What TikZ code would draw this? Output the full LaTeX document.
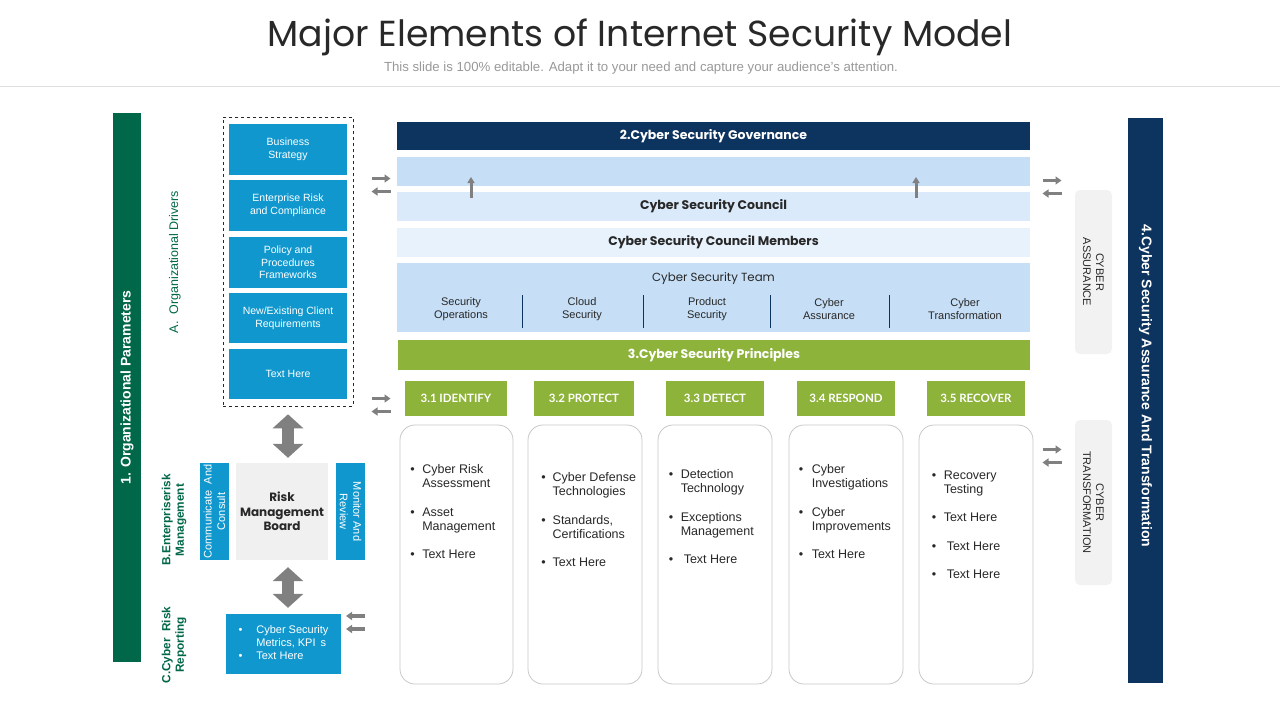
\documentclass[tikz,border=0pt]{standalone}
\usepackage{fontspec}
\setmainfont{Liberation Sans}
\newfontfamily\gothic{Poppins}
\newfontfamily\gill{Lato}
\usetikzlibrary{arrows.meta, positioning, calc}
\definecolor{secnavy}{RGB}{12,52,94}
\definecolor{secblue}{RGB}{16,152,206}
\definecolor{secgreen}{RGB}{141,179,59}
\definecolor{orggreen}{RGB}{0,104,72}
\definecolor{bandblue}{RGB}{198,223,246}
\definecolor{bandmid}{RGB}{219,234,250}
\definecolor{bandlight}{RGB}{232,242,252}
\definecolor{arrowgray}{RGB}{128,128,128}
\definecolor{cardline}{RGB}{200,200,200}
\definecolor{tagfill}{RGB}{242,242,242}
\definecolor{textgray}{RGB}{40,40,40}

\tikzset{
  drvbox/.style={fill=secblue, text=white, minimum width=118pt, inner sep=2pt, align=center, font=\fontsize{10.5}{12.7}\selectfont},
  band/.style={minimum width=633pt, inner sep=0pt, align=center},
  phase/.style={fill=secgreen, text=white, minimum height=35pt, inner sep=0pt, font=\gill\bfseries\fontsize{11.5}{13}\selectfont},
  card/.style={draw=cardline, fill=white, rounded corners=15pt, minimum width=114pt, minimum height=259pt, line width=0.8pt},
  cardlist/.style={anchor=north west, inner sep=0pt, text=textgray, font=\fontsize{12.5}{14}\selectfont},
  sidetag/.style={fill=tagfill, rounded corners=5pt, minimum width=164pt, minimum height=37pt, rotate=-90, align=center, text=textgray, font=\fontsize{11}{13}\selectfont},
  steplabel/.style={text=orggreen, align=center, rotate=90, inner sep=0pt},
  pairarrow/.style={draw=arrowgray, line width=3.5pt, -{Triangle[width=8pt,length=6pt]}},
  bigarrow/.style={draw=arrowgray, line width=12pt, {Triangle[width=30pt,length=14pt]}-{Triangle[width=30pt,length=14pt]}},
}

\begin{document}
\begin{tikzpicture}[x=1pt, y=-1pt]
  \useasboundingbox[fill=white] (0,0) rectangle (1280,720);

  % title
  \node[text=textgray] (title) at (640,37) {\gothic\fontsize{36.2}{40}\selectfont Major Elements of Internet Security Model};
  \node[text=black!40] (subtitle) at (641,68) {\fontsize{13.2}{15}\selectfont This slide is 100\% editable. Adapt it to your need and capture your audience's attention.};
  \draw[black!12, line width=1pt] (0,86) -- (1280,86);

  % left column
  \node[fill=orggreen, text=white, rotate=90, minimum width=549pt, minimum height=28pt, inner sep=0pt,
        font=\bfseries\fontsize{14}{16}\selectfont] (orgbar) at (127,387.5) {1. Organizational Parameters};
  \node[steplabel, font=\fontsize{12.5}{14}\selectfont] (labA) at (175,262) {A.\ \ Organizational Drivers};
  \node[steplabel, font=\bfseries\fontsize{11.8}{13.5}\selectfont] (labB) at (174,520) {B.Enterpriserisk\\Management};
  \node[steplabel, font=\bfseries\fontsize{11.8}{13.5}\selectfont] (labC) at (174,645) {C.Cyber\ \ Risk\\Reporting};

  \node[draw=textgray, dashed, line width=0.6pt, minimum width=130pt, minimum height=289pt] (drivers) at (288,261.5) {};
  \node[drvbox, minimum height=51pt] (drv1) at (288,149.5) {Business\\Strategy};
  \node[drvbox, minimum height=51pt] (drv2) at (288,205.5) {Enterprise Risk\\and Compliance};
  \node[drvbox, minimum height=51pt] (drv3) at (288,262.5) {Policy and\\Procedures\\Frameworks};
  \node[drvbox, minimum height=50pt] (drv4) at (288,318) {New/Existing Client\\Requirements};
  \node[drvbox, minimum height=50pt] (drv5) at (288,374) {Text Here};

  \node[fill=black!6, text=textgray, minimum width=92pt, minimum height=97pt, align=center,
        font=\gothic\bfseries\fontsize{12}{14.5}\selectfont] (board) at (282,511.5) {Risk\\Management\\Board};
  \node[fill=secblue, text=white, rotate=90, minimum width=97pt, minimum height=29pt, inner sep=0pt, align=center,
        font=\fontsize{11}{13.5}\selectfont] (consult) at (214.5,511.5) {Communicate\ \ And\\Consult};
  \node[fill=secblue, text=white, rotate=-90, minimum width=97pt, minimum height=29pt, inner sep=0pt, align=center,
        font=\fontsize{11}{13.5}\selectfont] (review) at (350.5,511.5) {Monitor And\\Review};
  \node[fill=secblue, text=white, minimum width=115pt, minimum height=60pt, inner sep=0pt,
        font=\fontsize{11}{13}\selectfont] (report) at (283.5,644)
        {\begin{tabular}{@{}l@{\hspace{14pt}}l@{}}\textbullet & Cyber Security\\ & Metrics, KPI\hspace{5pt}s\\ \textbullet & Text Here\end{tabular}};

  \draw[bigarrow] ([yshift=-8pt]drivers.south) -- ([yshift=5pt]drivers.south |- board.north);
  \draw[bigarrow] ([yshift=-7pt]drivers.south |- board.south) -- ([yshift=6pt]drivers.south |- report.north);

  % governance bands
  \node[band, fill=secnavy, text=white, minimum height=28pt, font=\gothic\bfseries\fontsize{12.5}{14}\selectfont] (gov) at (713.5,136) {2.Cyber Security Governance};
  \node[band, fill=bandblue, minimum height=29pt] (band1) at (713.5,171.5) {};
  \node[band, fill=bandmid, minimum height=29pt, text=textgray, font=\gothic\bfseries\fontsize{12.5}{14}\selectfont] (council) at (713.5,206.5) {Cyber Security Council};
  \node[band, fill=bandlight, minimum height=29pt, text=textgray, font=\gothic\bfseries\fontsize{12.5}{14}\selectfont] (members) at (713.5,242.5) {Cyber Security Council Members};
  \node[band, fill=bandblue, minimum height=69pt] (team) at (713.5,297.5) {};
  \node[text=textgray, font=\gothic\fontsize{11.8}{13}\selectfont] (teamtitle) at (713.5,278.5) {Cyber Security Team};
  \foreach \tx/\tname/\ttext in {461/team1/Security\\Operations, 582/team2/Cloud\\Security, 707/team3/Product\\Security, 829/team4/Cyber\\Assurance, 965/team5/Cyber\\Transformation}
    \node[text=textgray, align=center, inner sep=0pt, font=\fontsize{11}{13}\selectfont] (\tname) at (\tx,309) {\ttext};
  \foreach \dx in {522,643,770,889}
    \draw[secnavy, line width=0.8pt] (\dx,295) -- (\dx,328);
  \foreach \ux in {471,916}
    \draw[draw=arrowgray, line width=3pt, -{Triangle[width=7pt,length=6pt]}] (\ux,198) -- (\ux,177);

  % principles
  \node[fill=secgreen, text=white, minimum width=632pt, minimum height=30pt, inner sep=0pt,
        font=\gothic\bfseries\fontsize{12.5}{14}\selectfont] (principles) at (714,355) {3.Cyber Security Principles};
  \node[phase, minimum width=102pt] (identify) at (456,398.5) {3.1 IDENTIFY};
  \node[phase, minimum width=100pt] (protect) at (584,398.5) {3.2 PROTECT};
  \node[phase, minimum width=98pt] (detect) at (715,398.5) {3.3 DETECT};
  \node[phase, minimum width=98pt] (respond) at (846,398.5) {3.4 RESPOND};
  \node[phase, minimum width=98pt] (recover) at (976,398.5) {3.5 RECOVER};

  \node[card, minimum width=113pt] (card1) at (456.5,554.5) {};
  \node[card] (card2) at (585,554.5) {};
  \node[card] (card3) at (715,554.5) {};
  \node[card] (card4) at (846,554.5) {};
  \node[card] (card5) at (976,554.5) {};

  \node[cardlist] (list1) at ([xshift=10.5pt, yshift=-39pt]card1.north west)
    {\begin{tabular}{@{}l@{\hspace{7.6pt}}l@{}}\textbullet & Cyber Risk\\ & Assessment\\[14.5pt] \textbullet & Asset\\ & Management\\[14.5pt] \textbullet & Text Here\end{tabular}};
  \node[cardlist] (list2) at ([xshift=13.5pt, yshift=-47pt]card2.north west)
    {\begin{tabular}{@{}l@{\hspace{7pt}}l@{}}\textbullet & Cyber Defense\\ & Technologies\\[14.5pt] \textbullet & Standards,\\ & Certifications\\[14.5pt] \textbullet & Text Here\end{tabular}};
  \node[cardlist] (list3) at ([xshift=11pt, yshift=-44pt]card3.north west)
    {\begin{tabular}{@{}l@{\hspace{7.6pt}}l@{}}\textbullet & Detection\\ & Technology\\[14.5pt] \textbullet & Exceptions\\ & Management\\[14.5pt] \textbullet & \hspace{3pt}Text Here\end{tabular}};
  \node[cardlist] (list4) at ([xshift=10pt, yshift=-39pt]card4.north west)
    {\begin{tabular}{@{}l@{\hspace{8.6pt}}l@{}}\textbullet & Cyber\\ & Investigations\\[14.5pt] \textbullet & Cyber\\ & Improvements\\[14.5pt] \textbullet & Text Here\end{tabular}};
  \node[cardlist] (list5) at ([xshift=13pt, yshift=-45pt]card5.north west)
    {\begin{tabular}{@{}l@{\hspace{7.6pt}}l@{}}\textbullet & Recovery\\ & Testing\\[14pt] \textbullet & Text Here\\[14.5pt] \textbullet & \hspace{3pt}Text Here\\[14pt] \textbullet & \hspace{3pt}Text Here\end{tabular}};

  % right column
  \node[sidetag] (assure) at (1093.5,272) {CYBER\\ASSURANCE};
  \node[sidetag, minimum width=165pt] (transform) at (1093.5,502.5) {CYBER\\TRANSFORMATION};
  \node[fill=secnavy, text=white, rotate=-90, minimum width=565pt, minimum height=35pt, inner sep=0pt,
        font=\bfseries\fontsize{14}{16}\selectfont] (assurebar) at (1145.5,400.5) {4.Cyber Security Assurance And Transformation\kern29pt};

  % exchange arrows
  \foreach \px/\py in {381/185, 381/405, 1052/187, 1052/456} {
    \draw[pairarrow] (\px-9.5,\py-6.5) -- (\px+9.5,\py-6.5);
    \draw[pairarrow] (\px+9.5,\py+6.5) -- (\px-9.5,\py+6.5);
  }
  \draw[pairarrow] (365,616) -- (346,616);
  \draw[pairarrow] (365,629) -- (346,629);
\end{tikzpicture}
\end{document}
